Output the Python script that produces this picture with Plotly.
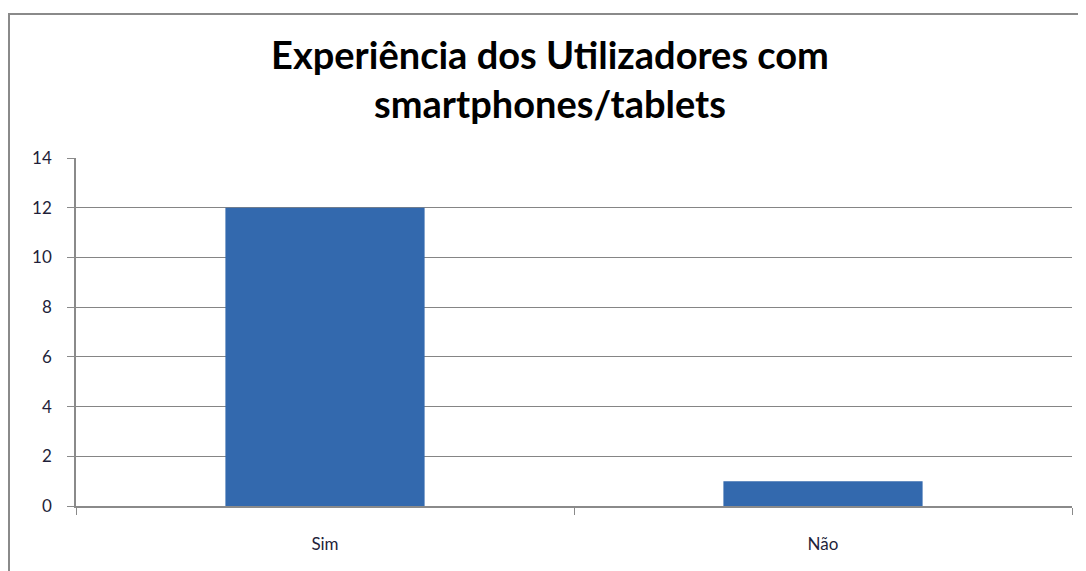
import plotly.graph_objects as go

categories = ["Sim", "Não"]
values = [12, 1]
y_ticks = [0, 2, 4, 6, 8, 10, 12, 14]
title_text = "Experiência dos Utilizadores com<br>smartphones/tablets"

fig = go.Figure()
fig.add_trace(go.Bar(
    x=categories, y=values,
    marker=dict(color="#3369ae", line=dict(width=0)),
    width=0.4,
))

# page has an 8px body margin, so the figure is drawn 8px smaller
W, H = 1078, 563
l, r, t, b = 68, 14, 150, 65
pw, ph = W - l - r, H - t - b

fig.update_layout(
    width=W, height=H,
    margin=dict(l=l, r=r, t=t, b=b),
    paper_bgcolor="white", plot_bgcolor="white",
    showlegend=False,
    title=dict(text=title_text, x=542 / W, xref="container", xanchor="center",
               y=1 - 61 / H, yref="container", yanchor="middle",
               font=dict(family="Lato", size=38, color="black", weight="bold")),
    font=dict(family="Lato", color="#222"),
    bargap=0.6,
)
fig.update_yaxes(range=[0, 14], tickvals=y_ticks, showgrid=True, gridcolor="#858585", gridwidth=1.3,
                 showline=True, linecolor="#8a8a8a", linewidth=1.5, ticks="outside", ticklen=7,
                 tickcolor="#8a8a8a", tickfont=dict(size=17, color="#1f1f3a"), ticklabelstandoff=12,
                 zeroline=False, fixedrange=True)
fig.update_xaxes(showline=True, linecolor="#8a8a8a", linewidth=1.5, ticks="outside", ticklen=7,
                 tickcolor="#8a8a8a", tickson="boundaries", tickfont=dict(size=17, color="#1f1f3a"),
                 ticklabelstandoff=22, showgrid=False, fixedrange=True)

fig.add_shape(type="rect", xref="paper", yref="paper",
              x0=(1 - l) / pw, x1=1.2, y0=-0.5, y1=(H - b - 6) / ph,
              line=dict(color="#8a8a8a", width=2), fillcolor="rgba(0,0,0,0)", layer="below")

fig.write_html("out.html")
